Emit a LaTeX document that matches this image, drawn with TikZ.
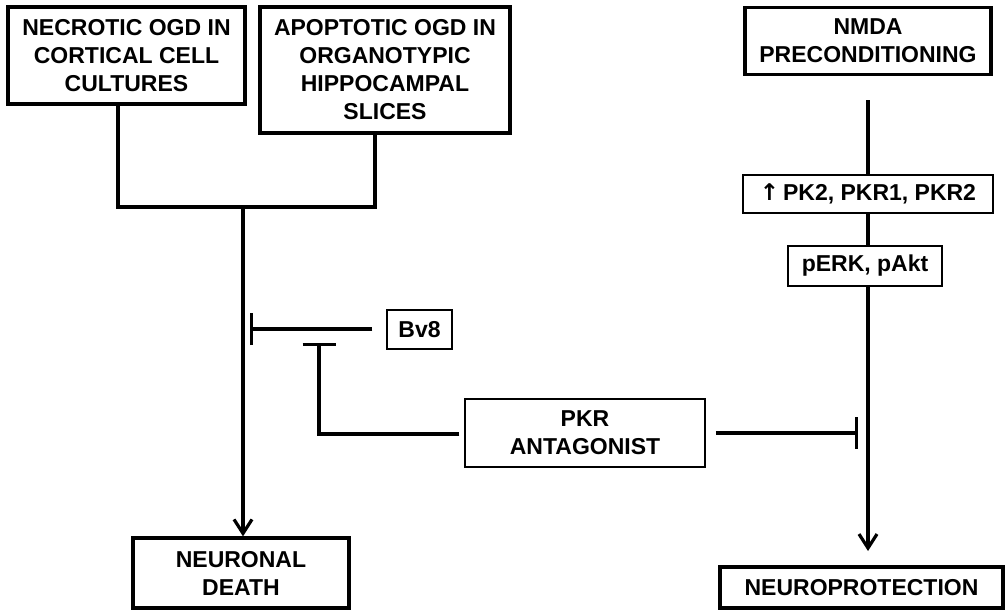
\documentclass[tikz,border=0pt]{standalone}
\usepackage{fontspec}
\setmainfont{Liberation Sans}
\newfontfamily\symfont{DejaVu Sans}
\usetikzlibrary{arrows.meta}
\begin{document}
\begin{tikzpicture}[x=1pt,y=-1pt,
  every node/.style={font=\bfseries\fontsize{23}{28}\selectfont,align=center,inner sep=0pt},
  thickbox/.style={draw,line width=3.3pt,minimum width=#1},
  thinbox/.style={draw,line width=1.5pt,minimum width=#1},
  conn/.style={line width=3.2pt},
  arr/.style={conn,-{Straight Barb[length=14pt,width=18pt,line width=3.2pt]}},
  inh/.style={conn,-{Bar[width=#1,line width=3.2pt]}}]
\useasboundingbox (0,0) rectangle (1008,610);
% boxes
\node[thickbox=237pt,minimum height=97pt] (nec) at (126.5,55.5) {NECROTIC OGD IN\\CORTICAL CELL\\CULTURES};
\node[thickbox=250pt,minimum height=126pt] (apo) at (385,70) {APOPTOTIC OGD IN\\ORGANOTYPIC\\HIPPOCAMPAL\\SLICES};
\node[thickbox=246pt,minimum height=67pt] (nmda) at (868,41) {NMDA\\PRECONDITIONING};
\node[thinbox=250pt,minimum height=38pt] (pk2) at (868,194) {{\symfont\bfseries ↑}\,PK2, PKR1, PKR2};
\node[thinbox=154pt,minimum height=40pt] (perk) at (865,266) {pERK, pAkt};
\node[thinbox=65pt,minimum height=39pt] (bv8) at (419.5,329.5) {Bv8};
\node[thinbox=240pt,minimum height=68pt] (pkr) at (585,433) {PKR\\ANTAGONIST};
\node[thickbox=216pt,minimum height=70pt] (nd) at (241,573) {NEURONAL\\DEATH};
\node[thickbox=283pt,minimum height=41pt] (np) at (861.5,587.5) {NEUROPROTECTION};
% coordinates
\coordinate (jl) at (118,207);
\coordinate (jr) at (375,207);
\coordinate (j) at (243,207);
\coordinate (rtop) at (868,100);
\coordinate (rtip) at (868,551);
\coordinate (bvend) at (250,329);
\coordinate (pkrc) at (319,434);
\coordinate (pkrend) at (319,343);
\coordinate (rbar) at (858,433);
% connectors
\draw[conn] (nec.south -| jl) -- (jl) -- (jr) -- (apo.south -| jr);
\draw[arr] (j) -- (nd.north -| j);
\draw[conn] (rtop) -- (pk2.north -| rtop);
\draw[conn] (pk2.south -| rtop) -- (perk.north -| rtop);
\draw[arr] (perk.south -| rtop) -- (rtip);
\draw[inh=32pt,shorten <=14pt] (bv8.west |- bvend) -- (bvend);
\draw[inh=33pt,shorten <=5pt] (pkr.west |- pkrc) -- (pkrc) -- (pkrend);
\draw[inh=32pt,shorten <=10pt] (pkr.east |- rbar) -- (rbar);
\end{tikzpicture}
\end{document}
